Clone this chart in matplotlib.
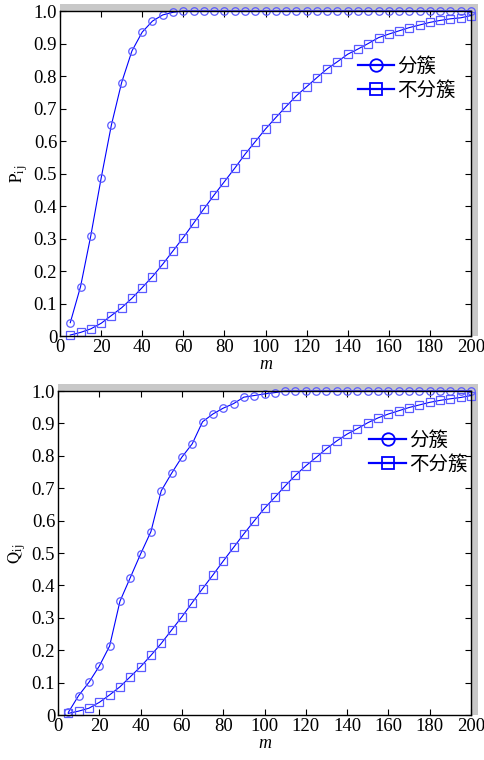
import matplotlib
matplotlib.use("Agg")
import matplotlib.pyplot as plt
from matplotlib.lines import Line2D
from matplotlib.patches import Rectangle

# --- data ---
m = list(range(5, 205, 5))

p_cluster = [0.041, 0.152, 0.309, 0.485, 0.649, 0.780, 0.877, 0.935, 0.969, 0.988,
             0.996] + [1.0] * 29
p_flat = [0.003, 0.011, 0.022, 0.039, 0.063, 0.087, 0.116, 0.149, 0.183, 0.221,
          0.262, 0.303, 0.347, 0.391, 0.434, 0.475, 0.516, 0.559, 0.598, 0.637,
          0.672, 0.706, 0.739, 0.767, 0.795, 0.822, 0.844, 0.867, 0.883, 0.900,
          0.918, 0.929, 0.939, 0.949, 0.957, 0.965, 0.971, 0.976, 0.979, 0.986]

q_cluster = [0.008, 0.060, 0.101, 0.151, 0.213, 0.351, 0.424, 0.497, 0.566, 0.692,
             0.746, 0.796, 0.837, 0.905, 0.929, 0.947, 0.961, 0.981, 0.986, 0.991,
             0.995] + [1.0] * 19
q_flat = [0.005, 0.012, 0.021, 0.039, 0.062, 0.087, 0.118, 0.149, 0.184, 0.221,
          0.262, 0.303, 0.347, 0.390, 0.432, 0.475, 0.517, 0.559, 0.599, 0.638,
          0.672, 0.707, 0.740, 0.769, 0.795, 0.822, 0.846, 0.867, 0.884, 0.902,
          0.917, 0.929, 0.939, 0.949, 0.957, 0.965, 0.971, 0.976, 0.980, 0.986]

legend_labels = ["分簇", "不分簇"]
x_ticks = list(range(0, 201, 20))
y_ticks = [round(0.1 * i, 1) for i in range(11)]

SERIF = "Liberation Serif"
CJK = ["Noto Sans CJK SC", "DejaVu Sans"]
LINE_C = "#0000ff"
MARK_C = "#5a5aff"
W, H = 484, 760

plt.rcParams["mathtext.fontset"] = "stix"
fig = plt.figure(figsize=(W / 100, H / 100), dpi=100)


def panel(rect_px, y1, y2, ylabel, leg_anchor):
    left, top, right, bottom = rect_px
    pos = [left / W, 1 - bottom / H, (right - left) / W, (bottom - top) / H]
    # grey frame peeking out above and to the right of the axes
    fig.patches.append(Rectangle((pos[0], pos[1]), pos[2] + 7 / W, pos[3] + 7 / H,
                                 transform=fig.transFigure, facecolor="#c8c8c8",
                                 edgecolor="none", zorder=-5))
    ax = fig.add_axes(pos)
    ax.set_zorder(2)
    ax.set_facecolor("white")
    ax.plot(m, y1, color=LINE_C, lw=0.8, marker="o", ms=5.4, mfc="none",
            mec=MARK_C, mew=0.9, clip_on=False)
    ax.plot(m, y2, color=LINE_C, lw=0.8, marker="s", ms=5.8, mfc="none",
            mec=MARK_C, mew=0.9, clip_on=False)
    ax.set_xlim(0, 200)
    ax.set_ylim(0, 1.0)
    ax.set_xticks(x_ticks)
    ax.set_yticks(y_ticks)
    ax.set_yticklabels(["0"] + [f"{v:.1f}" for v in y_ticks[1:]])
    ax.tick_params(direction="in", length=4, width=0.8, top=True, right=True,
                   labelsize=13.5, pad=2)
    for lab in ax.get_xticklabels() + ax.get_yticklabels():
        lab.set_fontfamily(SERIF)
    for s in ax.spines.values():
        s.set_linewidth(1.0)
    ax.set_xlabel("m", fontfamily=SERIF, fontstyle="italic", fontsize=13, labelpad=0)
    ax.set_ylabel(ylabel, fontsize=12, labelpad=3)
    handles = [Line2D([], [], color=LINE_C, lw=1.6, marker=mk, ms=ms, mfc="none",
                      mec=LINE_C, mew=1.3)
               for mk, ms in (("o", 9), ("s", 8.5))]
    ax.legend(handles, legend_labels, loc="upper left", bbox_to_anchor=leg_anchor,
              frameon=False, prop={"family": CJK, "size": 14}, handlelength=1.9,
              handletextpad=0.15, labelspacing=0.15, borderaxespad=0)
    return ax


panel((60, 11, 471, 336), p_cluster, p_flat, r"$\mathrm{P}_{\mathrm{i\,j}}$", (0.705, 0.885))
panel((58, 391, 471, 715), q_cluster, q_flat, r"$\mathrm{Q}_{\mathrm{i\,j}}$", (0.735, 0.905))

fig.savefig("out.png", dpi=100)
